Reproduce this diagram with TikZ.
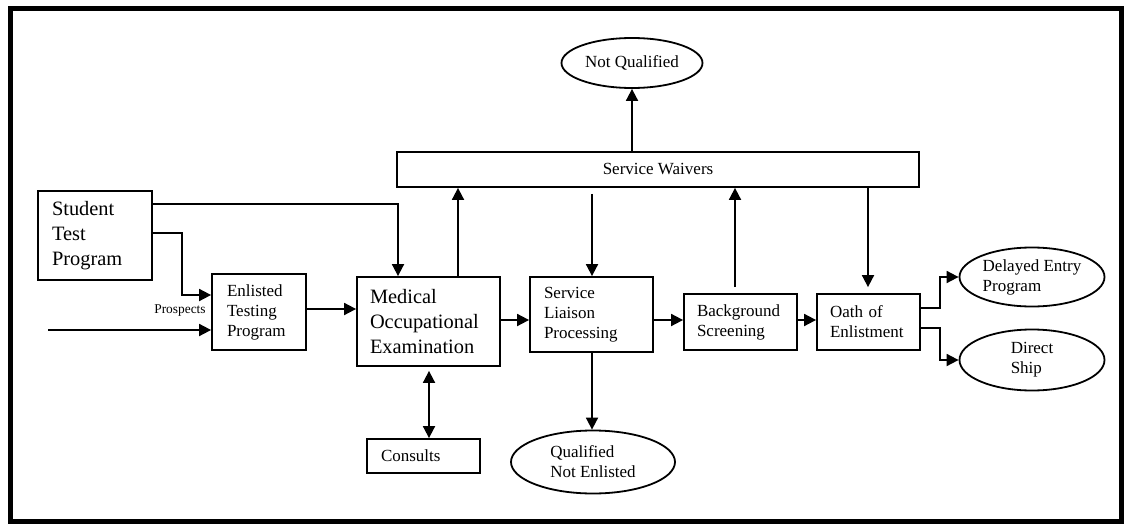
\documentclass[tikz,border=0pt]{standalone}
\usepackage{fontspec}
\setmainfont{Liberation Serif}
\usetikzlibrary{arrows.meta,shapes.geometric}

\tikzset{
  x=0.5pt, y=-0.5pt,
  lbl/.style={font=\fontsize{8.5}{10}\selectfont},
  biglbl/.style={font=\fontsize{10.2}{12.5}\selectfont},
  stepbox/.style={draw, line width=0.9pt, rectangle, inner ysep=0pt, align=left, lbl},
  bigbox/.style={stepbox, biglbl},
  outcome/.style={draw, line width=0.9pt, ellipse, inner sep=0pt, align=left, lbl},
  arr/.style={line width=0.9pt, -{Triangle[length=6pt,width=6pt]}},
  darr/.style={line width=0.9pt, {Triangle[length=6pt,width=6pt]}-{Triangle[length=6pt,width=6pt]}},
}

\begin{document}
\begin{tikzpicture}
\useasboundingbox (0,0) rectangle (1124,524);
% outer frame
\draw[line width=2.5pt] (10,9) rectangle (1121,521);

% process boxes
\node[bigbox, minimum width=57pt, minimum height=44.5pt, inner xsep=7pt, text width=43pt]
  (stp) at (95,235.5) {Student\\Test\\Program};
\node[stepbox, minimum width=47pt, minimum height=38pt, inner xsep=7.5pt, text width=32pt]
  (etp) at (259,312) {Enlisted\\Testing\\Program};
\node[bigbox, minimum width=71.5pt, minimum height=44.5pt, inner xsep=6.5pt, text width=58.5pt]
  (moe) at (428.5,321.5) {Medical\\Occupational\\Examination};
\node[stepbox, minimum width=61.5pt, minimum height=37.5pt, inner xsep=7pt, text width=47.5pt]
  (slp) at (591.5,314.5) {Service\\Liaison\\Processing};
\node[stepbox, minimum width=56.5pt, minimum height=28pt, inner xsep=6.5pt, text width=43.5pt]
  (bs) at (740.5,322) {Background\\Screening};
\node[stepbox, minimum width=51.5pt, minimum height=28pt, inner xsep=6.5pt, text width=38.5pt]
  (oath) at (868.5,322) {Oath of\\Enlistment};
\node[stepbox, minimum width=56.5pt, minimum height=17pt, inner xsep=7pt, text width=42.5pt]
  (cons) at (423.5,456) {Consults};
\node[stepbox, minimum width=261pt, minimum height=17.5pt, align=center]
  (sw) at (658,169.5) {Service Waivers};

% outcomes
\node[outcome, minimum width=70.5pt, minimum height=25pt] (nq) at (632,63) {Not Qualified};
\node[outcome, minimum width=82pt, minimum height=31.5pt] (qne) at (593,462) {Qualified\\Not Enlisted};
\node[outcome, minimum width=72.5pt, minimum height=29.5pt] (dep) at (1032,277) {Delayed Entry\\Program};
\node[outcome, minimum width=72.5pt, minimum height=30.5pt] (ds) at (1032,360) {Direct\\Ship};

% input label
\node[font=\fontsize{6.7}{8}\selectfont, inner sep=0pt] (prosp) at (180,311) {Prospects};
\coordinate (pin) at (48,330);

% connectors
\draw[arr] (pin) -- (etp.west |- pin);
\draw[arr] (stp.east |- 0,233) -| (182,295) -- (etp.west |- 0,295);
\draw[arr] (stp.east |- 0,204) -| (moe.north -| 398,0);
\draw[arr] (etp.east |- 0,309) -- (moe.west |- 0,309);
\draw[arr] (moe.north -| 458,0) -- (sw.south -| 458,0);
\draw[arr] (sw.north -| nq.south) -- (nq.south);
\draw[arr, shorten <=3pt] (sw.south -| 592,0) -- (slp.north -| 592,0);
\draw[arr] (moe.east |- 0,320) -- (slp.west |- 0,320);
\draw[arr] (slp.south -| 592,0) -- (qne.north -| 592,0);
\draw[darr, shorten <=2pt] (moe.south -| 429,0) -- (cons.north -| 429,0);
\draw[arr] (slp.east |- 0,320) -- (bs.west |- 0,320);
\draw[arr, shorten <=3pt] (bs.north -| 735,0) -- (sw.south -| 735,0);
\draw[arr] (bs.east |- 0,320) -- (oath.west |- 0,320);
\draw[arr, shorten >=3pt] (sw.south -| 868,0) -- (oath.north -| 868,0);
\draw[arr] (oath.east |- 0,308) -- (940,308) |- (dep.west);
\draw[arr] (oath.east |- 0,328) -- (940,328) |- (ds.west);
\end{tikzpicture}
\end{document}
